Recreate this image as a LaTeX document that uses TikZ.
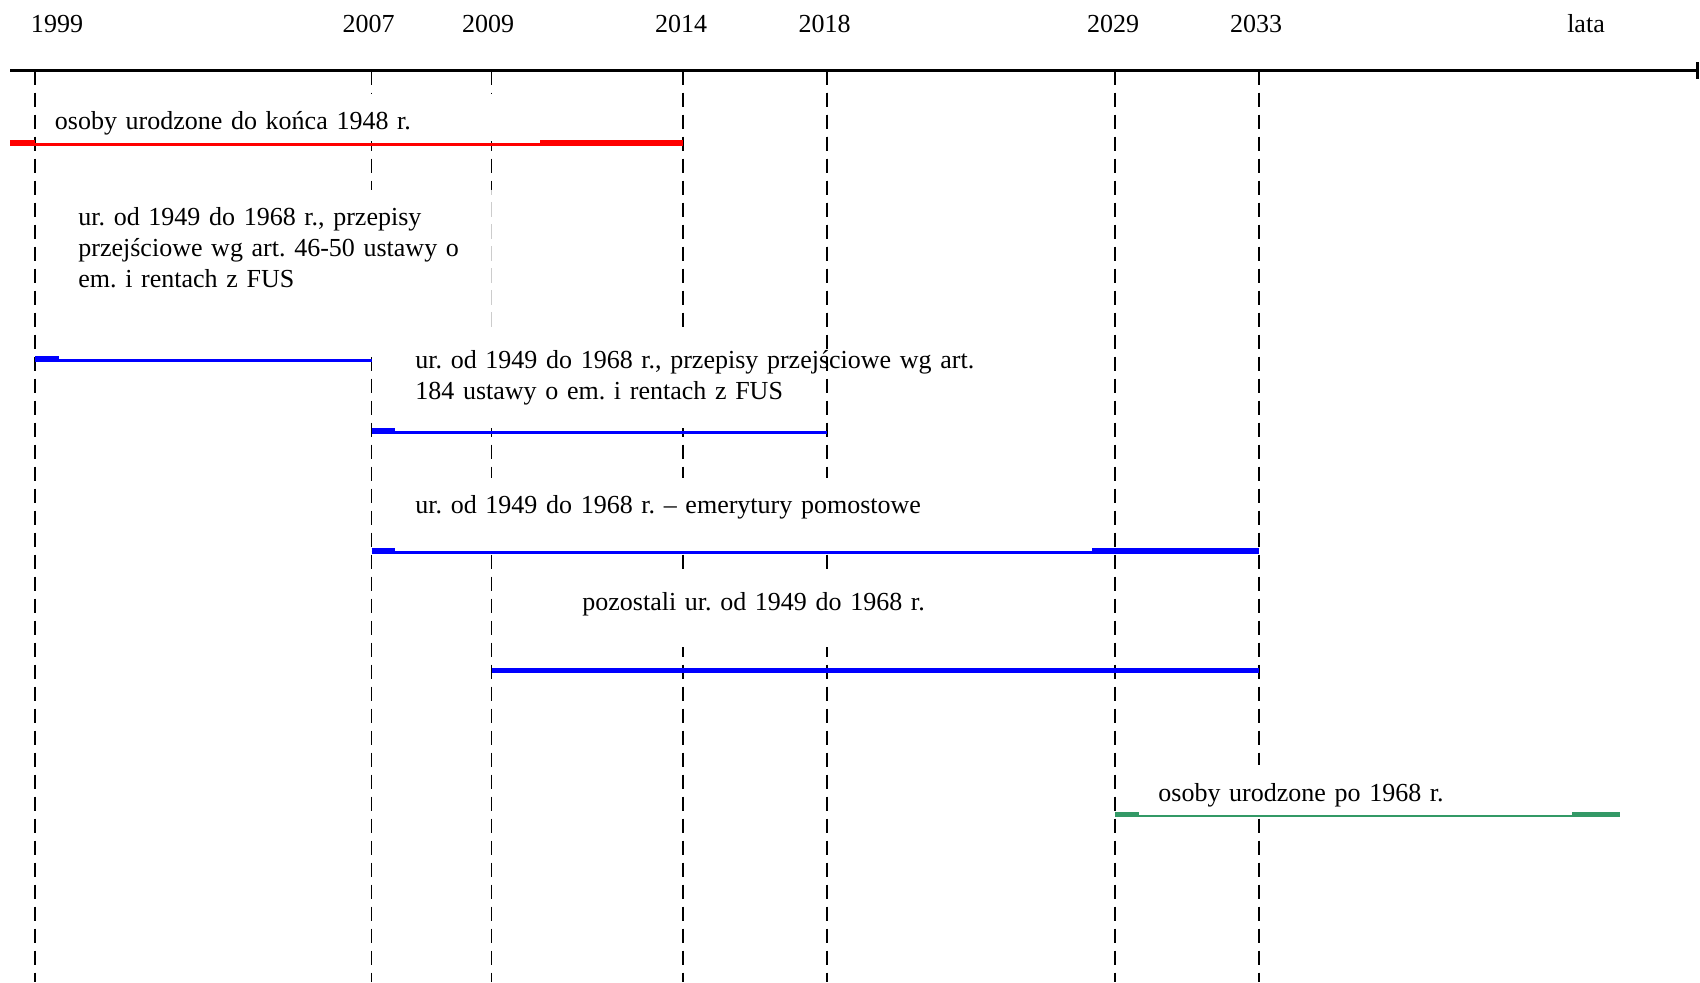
\documentclass[tikz,border=0pt]{standalone}
\usepackage{fontspec}
\setmainfont{Liberation Serif}
\usetikzlibrary{arrows.meta}

\definecolor{pogreen}{RGB}{51,153,102}

\begin{document}
\begin{tikzpicture}[x=0.5pt, y=-0.5pt,
    font=\fontsize{13pt}{15.5pt}\selectfont\frenchspacing,
    axis/.style={draw, line width=1.35pt, -{Bar[width=8.5pt]}},
    guide/.style={draw, line width=0.9pt, dash pattern=on 7.25pt off 3.75pt},
    year/.style={inner sep=0pt},
    group/.style={fill=white, inner ysep=0pt, align=left, anchor=base west},
    span/.style={line width=1.35pt},
    spanend/.style={line width=2.65pt},
    ]
    \useasboundingbox (0,0) rectangle (1700,982);

    % Place ticks
    \coordinate (axL) at (10,70.7);
    \coordinate (axR) at (1699,70.7);
    \coordinate (t1999) at (35,70.7);
    \coordinate (t2007) at (371.5,70.7);
    \coordinate (t2009) at (491.5,70.7);
    \coordinate (t2014) at (683,70.7);
    \coordinate (t2018) at (827,70.7);
    \coordinate (t2029) at (1115,70.7);
    \coordinate (t2033) at (1259,70.7);
    \coordinate (bot) at (0,982);

    % Draw axis
    \draw [axis] (axL) -- (axR);

    % Year labels
    \node [year] (l1999) at (57,24) {1999};
    \node [year] (l2007) at (368.5,24) {2007};
    \node [year] (l2009) at (488,24) {2009};
    \node [year] (l2014) at (681,24) {2014};
    \node [year] (l2018) at (824.5,24) {2018};
    \node [year] (l2029) at (1113,24) {2029};
    \node [year] (l2033) at (1256,24) {2033};
    \node [year] (lata) at (1586,24) {lata};

    % Guides
    \foreach \t in {1999,2007,2009,2014,2018,2029,2033}
      \draw [guide] (t\t) -- (t\t |- bot);

    % Place groups
    \node [group, text width=245pt, inner xsep=7.25pt, text height=17.85pt, text depth=5.65pt]
      (gA) at (40,129.7) {osoby urodzone do końca 1948 r.};
    \node [group, text width=200pt, inner xsep=19pt, text height=17.5pt, text depth=66pt]
      (gB) at (40,225) {ur. od 1949 do 1968 r., przepisy\\ przejściowe wg art. 46-50 ustawy o\\ em. i rentach z FUS};
    \node [group, text width=290pt, inner xsep=15pt, text height=20.5pt, text depth=30pt]
      (gC) at (385,368) {ur. od 1949 do 1968 r., przepisy przejściowe wg art.\\ 184 ustawy o em. i rentach z FUS};
    \node [group, text width=277.5pt, inner xsep=15pt, text height=17.5pt, text depth=17.5pt]
      (gD) at (385,513) {ur. od 1949 do 1968 r. – emerytury pomostowe};
    \node [group, text width=178pt, inner xsep=31pt, text height=20.25pt, text depth=18.25pt]
      (gE) at (520,610.5) {pozostali ur. od 1949 do 1968 r.};
    \node [group, text width=154.5pt, inner xsep=16.5pt, text height=18.25pt, text depth=5.25pt]
      (gF) at (1125,801.5) {osoby urodzone po 1968 r.};

    % guides showing through
    \draw [guide, gray!40, dash phase=4.75pt] (t2009 |- gB.north) -- (t2009 |- gC.north);
    \draw [guide] (t2018) -- (t2018 |- gC.south);

    % Draw spans
    \draw [span, red] (axL |- 0,144.35) -- (t2014 |- 0,144.35);
    \draw [spanend, red] (axL |- 0,143.05) -- (t1999 |- 0,143.05);
    \draw [spanend, red] (540,143.05) -- (t2014 |- 0,143.05);

    \draw [span, blue] (t1999 |- 0,360.35) -- (t2007 |- 0,360.35);
    \draw [spanend, blue] (t1999 |- 0,359.05) -- ++(24,0);

    \draw [span, blue] (t2007 |- 0,432.35) -- (t2018 |- 0,432.35);
    \draw [spanend, blue] (t2007 |- 0,431.05) -- ++(23.5,0);

    \draw [span, blue] (t2007 |- 0,552.35) -- (t2033 |- 0,552.35);
    \draw [spanend, blue] (t2007 |- 0,551.05) -- ++(23.5,0);
    \draw [spanend, blue] (1092,551.05) -- (t2033 |- 0,551.05);

    \draw [spanend, blue, line width=2.5pt] (t2009 |- 0,670.8) -- (t2033 |- 0,670.8);

    \draw [span, pogreen] (t2029 |- 0,815.95) -- (1620,815.95);
    \draw [spanend, pogreen] (t2029 |- 0,814.65) -- ++(24,0);
    \draw [spanend, pogreen] (1572,814.65) -- (1620,814.65);
\end{tikzpicture}
\end{document}
